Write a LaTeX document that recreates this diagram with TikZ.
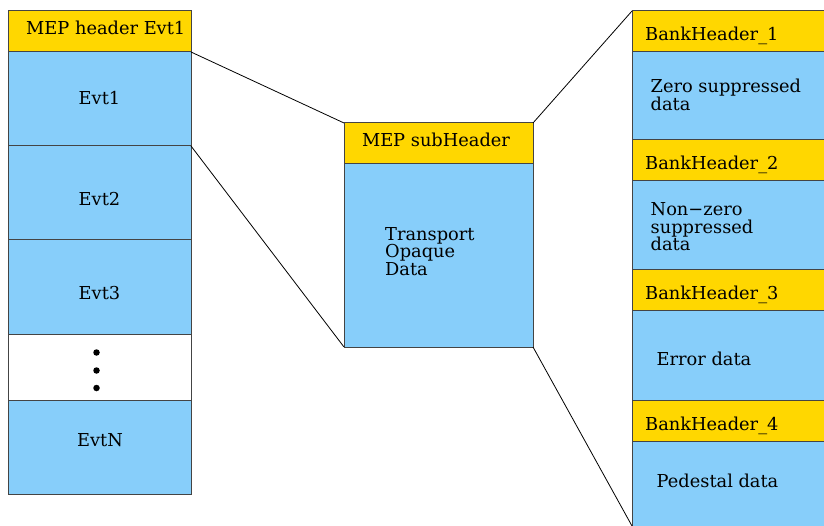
\documentclass[tikz,border=0pt]{standalone}
\usepackage{fontspec}
\setmainfont{DejaVu Serif}
\definecolor{hdrfill}{HTML}{FFD700}
\definecolor{bodyfill}{HTML}{87CEFA}
\definecolor{edge}{HTML}{444444}
\begin{document}
\begin{tikzpicture}[x=1pt,y=-1pt,
  cell/.style={draw=edge, line width=1pt, anchor=north west, inner sep=0pt, outer sep=0pt},
  hdrcell/.style={cell, fill=hdrfill},
  bodycell/.style={cell, fill=bodyfill},
  blankcell/.style={cell, fill=white},
  lbl/.style={font=\fontsize{17.8}{17.6}\selectfont, inner sep=0pt, anchor=base west, align=left},
  clbl/.style={font=\fontsize{17.8}{17.6}\selectfont, inner sep=0pt, anchor=base},
  link/.style={draw=black, line width=0.8pt},
  dotmark/.style={circle, fill=black, inner sep=0pt, minimum size=6.5pt}
]
\useasboundingbox (0,0) rectangle (824,526);
\clip (0,0) rectangle (824,526);
% left column
\node[hdrcell, minimum width=183pt, minimum height=41pt] (lh) at (8,11) {};
\node[bodycell, minimum width=183pt, minimum height=94pt] (e1) at (8,52) {};
\node[bodycell, minimum width=183pt, minimum height=94pt] (e2) at (8,146) {};
\node[bodycell, minimum width=183pt, minimum height=95pt] (e3) at (8,240) {};
\node[blankcell, minimum width=183pt, minimum height=65pt] (ed) at (8,335) {};
\node[bodycell, minimum width=183pt, minimum height=94pt] (en) at (8,400) {};
\node[lbl] (lht) at (26,35) {MEP header Evt1};
\node[clbl] (e1t) at (99.5,105) {Evt1};
\node[clbl] (e2t) at (99.5,206) {Evt2};
\node[clbl] (e3t) at (99.5,300) {Evt3};
\node[clbl] (ent) at (100,446) {EvtN};
\node[dotmark] (d1) at (96.5,352.5) {};
\node[dotmark] (d2) at (96.5,370.5) {};
\node[dotmark] (d3) at (96.5,388) {};
% middle
\node[hdrcell, minimum width=189pt, minimum height=41pt] (sh) at (344,123) {};
\node[bodycell, minimum width=189pt, minimum height=183pt] (sb) at (344,164) {};
\node[clbl] (sht) at (436,147) {MEP subHeader};
\node[lbl] (sbt) at (385,275.5) {Transport\\Opaque\\Data};
% right column
\node[hdrcell, minimum width=200pt, minimum height=41pt] (b1h) at (632,11) {};
\node[bodycell, minimum width=200pt, minimum height=88pt] (b1) at (632,52) {};
\node[hdrcell, minimum width=200pt, minimum height=41pt] (b2h) at (632,140) {};
\node[bodycell, minimum width=200pt, minimum height=89pt] (b2) at (632,181) {};
\node[hdrcell, minimum width=200pt, minimum height=41pt] (b3h) at (632,270) {};
\node[bodycell, minimum width=200pt, minimum height=89pt] (b3) at (632,311) {};
\node[hdrcell, minimum width=200pt, minimum height=41pt] (b4h) at (632,400) {};
\node[bodycell, minimum width=200pt, minimum height=100pt] (b4) at (632,441) {};
\node[lbl] (b1ht) at (645,41) {BankHeader\_1};
\node[lbl] (b1t) at (650.5,110.5) {Zero suppressed\\data};
\node[lbl] (b2ht) at (645,170) {BankHeader\_2};
\node[lbl] (b2t) at (650.5,251) {Non−zero\\suppressed\\data};
\node[lbl] (b3ht) at (645,299.5) {BankHeader\_3};
\node[lbl] (b3t) at (656.5,365) {Error data};
\node[lbl] (b4ht) at (645,430) {BankHeader\_4};
\node[lbl] (b4t) at (656.5,487) {Pedestal data};
% connectors
\draw[link] (e1.north east) -- (sh.north west);
\draw[link] (e1.south east) -- (sb.south west);
\draw[link] (sh.north east) -- (b1h.north west);
\draw[link] (sb.south east) -- (632,526);
\end{tikzpicture}
\end{document}
